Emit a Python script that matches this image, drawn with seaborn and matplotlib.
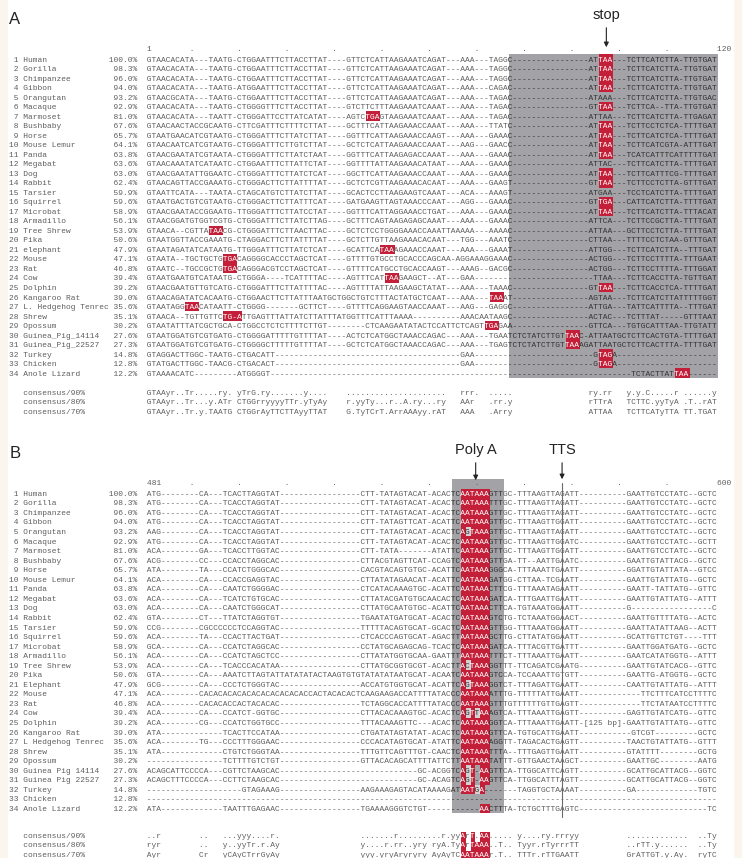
import matplotlib
matplotlib.use("Agg")
import matplotlib.pyplot as plt
from matplotlib.colors import ListedColormap
from matplotlib.patches import Rectangle
import numpy as np
import seaborn as sns

# ---------------- data ----------------
species_a = ["Human", "Gorilla", "Chimpanzee", "Gibbon", "Orangutan", "Macaque", "Marmoset",
             "Bushbaby", "Horse", "Mouse Lemur", "Panda", "Megabat", "Dog", "Rabbit",
             "Tarsier", "Squirrel", "Microbat", "Armadillo", "Tree Shrew", "Pika",
             "elephant", "Mouse", "Rat", "Cow", "Dolphin", "Kangaroo Rat",
             "L. Hedgehog Tenrec", "Shrew", "Opossum", "Guinea_Pig_14114",
             "Guinea_Pig_22527", "Turkey", "Chicken", "Anole Lizard"]
species_b = list(species_a)
species_b[20] = "Elephant"
species_b[26] = "L Hedgehog Tenrec"
species_b[29] = "Guinea Pig 14114"
species_b[30] = "Guinea Pig 22527"
identity = [100.0, 98.3, 96.0, 94.0, 93.2, 92.9, 81.0, 67.6, 65.7, 64.1, 63.8, 63.6,
            63.0, 62.4, 59.9, 59.6, 58.9, 56.1, 53.9, 50.6, 47.9, 47.1, 46.8, 39.4,
            39.2, 39.0, 35.6, 35.1, 30.2, 27.6, 27.3, 14.8, 12.8, 12.2]
cons_labels = ["consensus/90%", "consensus/80%", "consensus/70%"]

# panel A, alignment columns 1-32
a_left = [
    "GTAACACATA---TAATG-CTGGAATTTCTTA",
    "GTAACACATA---TAATG-CTGGAATTTCTTA",
    "GTAACACATA---TAATG-CTGGAATTTCTTA",
    "GTAACACATA---TAATG-ATGGAATTTCTTA",
    "GTAACGCATA---TAATG-CTGGAATTTCTTA",
    "GTAACACATA---TAATG-CTGGGGTTTCTTA",
    "GTAACACATA---TAATT-CTGGGATTCCTTA",
    "GTAACAACTACCGCAATG-CTTCGATTTCTTT",
    "GTAATGAACATCGTAATG-CTGGGATTTCTTA",
    "GTAACAATCATCGTAATG-CTGGGATTTCTTG",
    "GTAACGAATATCGTAATA-CTGGGATTTCTTA",
    "GTAACAAATATCATAATC-CTGGAATTTCTTA",
    "GTAACGAATATTGGAATC-CTGGGATTTCTTA",
    "GTAACAGTTACCGAAATG-CTGGGACTTCTTA",
    "GTAATTCATA---TAATA-CTAGCATGTCTTA",
    "GTAATGACTGTCGTAATG-CTGGGACTTCTTA",
    "GTAACGAATACCGGAATG-TTGGGATTTCTTA",
    "GTAACGGATGTGGTCGTG-CTGGGATTTCTTA",
    "GTAACA--CGTTATAACG-CTGGGATTTCTTA",
    "GTAATGGTTACCGAAATG-CTAGGACTTCTTA",
    "GTAATAGATATCATAATG-TTGGGATTTCTTA",
    "GTAATA--TGCTGCTGTGACAGGGGCACCCTA",
    "GTAATC--TGCCGCTGTGACAGGGACGTCCTA",
    "GTAATGAATGTCATAATG-CTGGGA----TCA",
    "GTAACGAATGTTGTCATG-CTGGGATTTCTTA",
    "GTAACAGATATCACAATG-CTGGAACTTCTTA",
    "GTAATAGGTAACATAATT-CTGGGG-------",
    "GTAACA--TGTTGTTCTG-ATTGAGTTTATTA",
    "GTAATATTTATCGCTGCA-CTGGCCTCTCTTT",
    "GTAATGGATGTCGTGATG-CTGGGGATTTTTG",
    "GTAATGGATGTCGTGATG-CTGGGGCTTTTTG",
    "GTAGGACTTGGC-TAATG-CTGACATT-----",
    "GTATGACTTGGC-TAACG-CTGACACT-----",
    "GTAAAACATC---------ATGGGGT------",
]
# panel A, columns 31-77
a_mid = [
    "TACCTTAT----GTTCTCATTAAGAAATCAGAT---AAA---TAGGC",
    "TACCTTAT----GTTCTCATTAAGAAATCAGAT---AAA---TAGGC",
    "TACCTTAT----GTTCTCATTAAGAAATCAGAT---AAA---TAGGC",
    "TACCTTAT----GTTCTCATTAAGAAATCAGAT---AAA---CAGAC",
    "TACCTTAT----GTTCTCATTAAGAAATCAGAT---AAA---TAGAC",
    "TACCTTAT----GTCTTCTTTAAGAAATCAAAT---AAA---TAGAC",
    "TATCATAT----AGTCTGAGTAAGAAATCAAAT---AAA---TAGAC",
    "TTTCTTAT----GCTTTCATTAAGAAACCAAAT---AAA---TTATC",
    "TATCTTAT----GGTTTCATTAAGAAACCAAGT---AAA---GAAAC",
    "TGTCTTAT----GCTCTCATTAAGAAACCAAAT---AAG---GAACC",
    "TATCTAAT----GGTTTCATTAAGAGACCAAAT---AAA---GAAAC",
    "TATTCTAT----GGTTTTATTAAGAAACATAAT---AAA---GAAAC",
    "TATCTCAT----GGCTTCATTAAGAAACCAAAT---AAA---GAAAC",
    "TATTTTAT----GCTCTCGTTAAGAAACACAAT---AAA---GAAGT",
    "TATCTTAT----GCACTCCTTAAGAAGTCAAAT---ACA---AAAGT",
    "TATTTCAT----GATGAAGTTAGTAAACCCAAT---AGG---GAAAC",
    "TATCCTAT----GGTTTCATTAGGAAACCTGAT---AAA---GAAAC",
    "TATCTTAG----GCTTTCAGTAAGAGAGCAAAT---AAA---GAAAC",
    "TAACTTAC----GCTCTCCTGGGGAAACCAAATTAAAAA---AAAAC",
    "TATTTTAT----GCTCTTGTTAAGAAACACAAT---TGG---AAATC",
    "TATCTCAT----GCATTCATAAAGAAACCAAAT---AAA---GAAAT",
    "TAGCTCAT----GTTTTGTGCCTGCACCCAGCAA-AGGAAAGGAAAC",
    "TAGCTCAT----GTTTTCATGCCTGCACCAAGT---AAAG--GACGC",
    "CATTTTAC----AGTTTCATTAAGAAGCT--AT---GAA--------",
    "TATTTTAC----AGTTTTATTAAGAAGCTATAT---AAA---TAAAC",
    "TATTTAATGCTGGCTGTCTTTACTATGCTCAAT---AAA---TAAAT",
    "--GCTTCT----GTTTTCAGGAAGTAACCAAAT---AAG---GAGGC",
    "TATCTTATTTATGGTTTCATTTAAAA----------AAACAATAAGC",
    "TTTCTTGT--------CTCAAGAATATACTCCATTCTCAGTTGAGAA",
    "TGTTTTAT----ACTCTCATGGCTAAACCAGAC---AAA---TGAAT",
    "TGTTTTAT----GCTCTCATGGCTAAACCAGAC---AAA---TGAGT",
    "------------------------------------GAA--------",
    "------------------------------------GAA--------",
    "-----------------------------------------------",
]
# panel A, columns 94-120 (rows 1-29)
a_right = [
    "ATTAA---TCTTCATCTTA-TTGTGAT", "ATTAA---TCTTCATCTTA-TTGTGAT",
    "ATTAA---TCTTCATCTTA-TTGTGAT", "ATTAA---TCTTCATCTTA-TTGTGAT",
    "ATAAA---TCTTCATCTTA-TTGTGAC", "GTTAA---TCTTCA--TTA-TTGTGAT",
    "ATTAA---TCTTCATCTTA-TTGAGAT", "ATTAA---TCTTCCTCTCA-TTTTGAT",
    "ATTAA---TCTTCATCTCA-TTTTGAT", "ATTAA---TCTTCATCGTA-ATTTGAT",
    "ATTAA---TCATCATTTCATTTTTGAT", "ATTAC---TCTTCATCTTA-TTTTGAT",
    "ATTAA---TCTTCATTTCG-TTTTGAT", "GTTAA---TCTTCCTCTTA-GTTTGAT",
    "ATGAA---TCCTCATCTTA-TTTTGAT", "GTTGA---CATTCATCTTA-TTTTGAT",
    "ATTAA---TCTTCATCTTA-TTTACAT", "ATTCA---TCTTCCGCTTA-TTTTGAT",
    "ATTAA---GCTTCCTCTTA-TTTTGAT", "CTTAA---TTTTCCTCTAA-GTTTGAT",
    "ATTGG---TCTTCATCTTA--TTTGAT", "ACTGG---TCTTCCTTTTA-TTTGAAT",
    "ACTGG---TCTTCCTTTTA-TTTGGAT", "-TTAA---TCTTCACCTTA-TGTTGAT",
    "GTTAA---TCTTCACCTCA-TTTTGAT", "AGTAA---TCTTCATCTTATTTTTGGT",
    "ATTGA---TATTCATTTTA--TTTGAT", "ACTAC---TCTTTAT-----GTTTAAT",
    "GTTCA---TGTGCATTTAA-TTGTATT",
]
# panel A, columns 78-120 (rows 30-34)
a_tail_end = [
    "CTCTATCTTGTTAAC-ATTAATGCTCTTCACTGTA-TTTTGAT",
    "CTCTATCTTGTTAAAGATTAATGCTCTTCACTTTA-TTTTGAT",
    "-----------------GTAGA---------------------",
    "-----------------GTAGA---------------------",
    "-------------------------TCTACTTATTAA------",
]
# stop codons in panel A: (row, first column, last column)
a_stops = [(1, 96, 98), (2, 96, 98), (3, 96, 98), (4, 96, 98), (6, 96, 98), (7, 47, 49),
           (8, 96, 98), (9, 96, 98), (10, 96, 98), (11, 96, 98), (13, 96, 98), (14, 96, 98),
           (16, 96, 98), (17, 96, 98), (19, 14, 16), (21, 50, 52), (22, 17, 19), (23, 17, 19),
           (24, 51, 53), (25, 96, 98), (26, 73, 75), (27, 9, 11), (28, 17, 20), (29, 72, 74),
           (30, 89, 91), (31, 89, 91), (32, 96, 98), (33, 96, 98), (34, 112, 114)]
a_shade = (77, 120)

a_cons = [
    [(1, "GTAAyr..Tr.....ry. yTrG.ry......"), (33, ".y...."), (43, "....................."),
     (67, "rrr."), (73, "....."), (94, "ry.rr"), (102, "y.y.C.....r"), (114, "......y")],
    [(1, "GTAAyr..Tr...y.ATr CTGGrryyyyTTr"), (33, ".yTyAy"), (43, "r.yyTy...r..A.ry...ry"),
     (67, "AAr"), (73, ".rr.y"), (94, "rTTrA"), (102, "TCTTC.yyTyA"), (114, ".T..rAT")],
    [(1, "GTAAyr..Tr.y.TAATG CTGGrAyTTCTTA"), (33, "yyTTAT"), (43, "G.TyTCrT.ArrAAAyy.rAT"),
     (67, "AAA"), (73, ".Arry"), (94, "ATTAA"), (102, "TCTTCATyTTA"), (114, "TT.TGAT")],
]

# panel B, columns 1-32
b_left = [
    "ATG--------CA---TCACTTAGGTAT----",
    "ATG--------CA---TCACCTAGGTAT----",
    "ATG--------CA---TCACCTAGGTAT----",
    "ATG--------CA---TCACCTAGGTAT----",
    "AAG--------CA---TCACCTAGGTAT----",
    "ATG--------CA---TCACCTAGGTAT----",
    "ACA--------GA---TCACCTTGGTAC----",
    "ACG--------CC---CCACCTAGGCAC----",
    "ATA--------TA---CCATCTGGGCAC----",
    "ACA--------CA---CCACCGAGGTAC----",
    "ACA--------CA---CAATCTGGGGAC----",
    "ACA--------CA---TCATCTGTGCAC----",
    "ACA--------CA---CAATCTGGGCAT----",
    "GTA--------CT---TTATCTAGGTGT----",
    "CCG--------CGCCCCCCTCCAGGTAC----",
    "ACA--------TA---CCACTTACTGAT----",
    "GCA--------CA---CCATCTAGGCAC----",
    "ACA--------CA---CCATCTAGCTCC----",
    "ACA--------CA---TCACCCACATAA----",
    "GTA--------CA---AAATCTTAGTATTATA",
    "GCG--------CA---CCCTCTGGGTAC----",
    "ACA--------CACACACACACACACACACAC",
    "ACA--------CACACACCACTACACAC----",
    "ACA--------CA---CCATCT-GGTGC----",
    "ACA--------CG---CCATCTGGTGCC----",
    "ATA-------------TCACTTCCATAA----",
    "ACA--------TG---CCCTTTGGGAAC----",
    "ATA-------------CTGTCTGGGTAA----",
    "----------------TCTTTTGTCTGT----",
    "ACAGCATTCCCCA---CGTTCTAAGCAC----",
    "ACAGCTTTCCCCA---CCTTCTAAGCAC----",
    "--------------------GTAGAAAG----",
    "--------------------------------",
    "ATA-------------TAATTTGAGAAC----",
]
# panel B, columns 33-66
b_mid = [
    "-------------CTT-TATAGTACAT-ACACTC",
    "-------------CTT-TATAGTACAT-ACACTC",
    "-------------CTT-TATAGTACAT-ACACTC",
    "-------------CTT-TATAGTTCAT-ACATTC",
    "-------------CTT-TATAGTACAT-ACACTC",
    "-------------CTT-TATAGTACAT-ACACTC",
    "-------------CTT-TATA-------ATATTC",
    "-------------CTTACGTAGTTCAT-CCAGTC",
    "-------------CACGTACAGTGTGC-ACATTC",
    "-------------CTTATATAGAACAT-ACATTC",
    "-------------CTCATACAAAGTGC-ACATTC",
    "-------------CTTATACGATGTGCAACACTC",
    "-------------CTTATGCAATGTGC-ACATTC",
    "-------------TGAATATGATGCAT-ACACTC",
    "-------------TTTTTACAGTGCAT-GCACTC",
    "-------------CTCACCCAGTGCAT-AGACTT",
    "-------------CCTATGCAGAGCAG-TCACTC",
    "-------------CTTATATGGTGCAA-GAATTT",
    "-------------CTTATGCGGTGCGT-ACACTT",
    "TATACTAAGTGTGTATATATAATGCAT-ACAATC",
    "-------------ACCATGTGGTGCAT-ACATTC",
    "ACCACTACACACTCAAGAAGACCATTTTATACCC",
    "-------------TCTAGGCACCATTTTATACCC",
    "-------------CTTACACAAAGTGC-ACACTC",
    "-------------TTTACAAAGTTC---ACACTC",
    "-------------CTGATATAGTATAT-ACACTC",
    "-------------CCCACATAGTGCAT-ATATTC",
    "-------------TTTGTTCAGTTTGT-CAACTC",
    "-------------GTTACACAGCATTTTATTCTT",
    "-------------------------GC-ACGGTC",
    "-------------------------GC-ACAGTC",
    "-------------AAGAAAGAGTACATAAAAGAT",
    "----------------------------------",
    "-------------TGAAAAGGGTCTGT-------",
]
# panel B, columns 67-72 (poly A signal)
b_motif = ["AATAAA"] * 4 + ["AGTAAA"] + ["AATAAA"] * 13 + ["ACTAAA", "AATAAA", "AGTAAA",
           "AATAAA", "AATAAA", "AGTTAA", "AATAAA", "AATAAA", "AATAAA", "AATAAA", "AATAAA",
           "AGT-AA", "AGT-AA", "AATGA-", "------", "----AA"]
# panel B, columns 73-82
b_after = ["GTTGC-TTTA", "TTTGC-TTTA", "GTTGC-TTTA", "GTTGC-TTTA", "GTTGC-TTTA",
           "GTTGC-TTTA", "GTTGC-TTTA", "GTTGA-TT--", "GGGCA-TTTA", "GATGG-CTTA",
           "CTTCG-TTTA", "GATCA-TTTG", "CTTCA-TGTA", "GTCTG-TCTA", "GTTGG-TTTA",
           "GCTTG-CTTA", "GATCA-TTTA", "TTTCT-TTTA", "GGTTT-TTCA", "GTCCA-TCCA",
           "GGTCT-TTTA", "ATTTG-TTTT", "GTTTGTTTTT", "AGTCA-TTTA", "GGTCA-TTTA",
           "GTTCA-TGTG", "AGGTT-TAGA", "TTTA--TTTG", "TATTT-GTTG", "GTTCA-TTGG",
           "GTTCA-TTGG", "------TAGG", "----------", "CTTTA-TCTG"]
# panel B, columns 83-120
b_right = [
    "AGTTAGATT----------GAATTGTCCTATC--GCTC",
    "AGTTAGATT----------GAATTGTCCTATC--GCTC",
    "AGTTAGATT----------GAATTGTCCTATC--GCTC",
    "AGTTGGATT----------GAATTGTCCTATC--GCTC",
    "AGTTAGATT----------GAATTGTCCTATC--GCTC",
    "AGTTGGATC----------GAATTGTCCTATC--GCTT",
    "AGTTGGATT----------GAATTGTCCTATC--GCTC",
    "AATTGAATC----------GAATTGTATTACG--GCTC",
    "AATTGAATT----------GGATTGTATTATA--GTCC",
    "A-TCGAATT----------GAATTGTATTATG--GCTC",
    "AATAGAATT----------GAATT-TATTATG--GTTC",
    "AATTGAATT----------GAATTGTATTATG--ATTT",
    "AATGGAATT----------G-----------------C",
    "AATGGAACT----------GAATTGTTTTATG--ACTC",
    "AATGGAATT----------GAATTATATTAAG--ACTT",
    "TATGGAATT----------GCATTGTTCTGT----TTT",
    "CGTTGATTT----------GAATTGGATGATG--GCTC",
    "AATTGAATT----------GAATCATATGGTG--ATTT",
    "GATCGAATG----------GAATTGTATCACG--GTTC",
    "AATTGTGTT----------GAATTG-ATGGTG--GCTC",
    "GATTGAATT----------CAATTGTATTATG--ATTT",
    "TATTGAATT-------------TTCTTTCATCCTTTTC",
    "TGTTGAGTT-------------TTCTATAATCCTTTTC",
    "AATTGAGTT----------GAGTTGTATCATG--GTTC",
    "AATTGAATT-[125 bp]-GAATTGTATTATG--GTTC",
    "CATTGAATT-----------GTCGT---------GCTC",
    "CACTGAGTT----------TAACTGTATTATG--GTTT",
    "AGTTGAATT----------GTATTTT--------GCTG",
    "AACTAAGCT----------GAATTGC--------AATG",
    "CATTCAGTT----------GCATTGCATTACG--GGTC",
    "CATTTAGTT----------GCATTGCATTACG--GGTC",
    "TGCTAAAAT----------GA-------------TGTC",
    "--------------------------------------",
    "CTTTGAGTC---------------------------TC",
]
b_signal = "AATAAA"
b_signal_cols = (67, 72)
b_shade = (65, 75)
b_cons = [
    [(1, "..r"), (12, ".."), (17, "...yyy....r."), (46, ".......r.........r.yy"),
     (67, "ArT.AA"), (73, "....."), (79, "y....ry.rrryy"), (102, "............."),
     (117, "..Ty")],
    [(1, "ryr"), (12, ".."), (17, "y..yyTr.r.Ay"), (46, "y....r.rr..yry ryA.Ty"),
     (67, "ArTAAA"), (73, "..T.."), (79, "Tyyr.rTyrrrTT"), (102, "..rTT.y......"),
     (117, "..Ty")],
    [(1, "Ayr"), (12, "Cr"), (17, "yCAyCTrrGyAy"), (46, "yyy.yryAryryry AyAyTC"),
     (67, "AATAAA"), (73, "r.T.."), (79, "TTTr.rTTGAATT"), (102, "GrATTGT.y.Ay."),
     (117, "ryTC")],
]
a_ruler = [(1, "1"), (121, "120")]
b_ruler = [(1, "481"), (121, "600")]
ruler_dots = list(range(10, 111, 10))

# ---------------- helpers ----------------
NCOL = 120


def fit(s, n):
    return (s + "-" * n)[:n]


def place(parts, width=NCOL):
    row = [" "] * width
    for start, text in parts:
        for k, ch in enumerate(text):
            if start - 1 + k < width:
                row[start - 1 + k] = ch
    return "".join(row)


seq_a = []
for i in range(34):
    tail = "-" * 16 + a_right[i] if i < 29 else a_tail_end[i - 29]
    seq_a.append(fit(fit(a_left[i], 32) + fit(a_mid[i], 47)[2:] + fit(tail, 43), NCOL))

seq_b = []
for i in range(34):
    seq_b.append(fit(fit(b_left[i], 32) + fit(b_mid[i], 34) + fit(b_motif[i], 6)
                     + fit(b_after[i], 10) + fit(b_right[i], 38), NCOL))

cons_a = [place(p) for p in a_cons]
cons_b = [place(p) for p in b_cons]

# cell classes: 0 none, 1 grey shade, 2 red, 3 light box (mismatch)
mat_a = np.zeros((39, NCOL), dtype=int)
mat_a[1:35, a_shade[0] - 1:a_shade[1]] = 1
for r, c1, c2 in a_stops:
    mat_a[r, c1 - 1:c2] = 2

mat_b = np.zeros((40, NCOL), dtype=int)
mat_b[0:35, b_shade[0] - 1:b_shade[1]] = 1
for i, s in enumerate(seq_b):
    for k, c in enumerate(range(b_signal_cols[0], b_signal_cols[1] + 1)):
        ch = s[c - 1]
        if ch == b_signal[k]:
            mat_b[i + 1, c - 1] = 2
        elif ch != "-":
            mat_b[i + 1, c - 1] = 3
for j, s in enumerate(cons_b):
    for k, c in enumerate(range(b_signal_cols[0], b_signal_cols[1] + 1)):
        if s[c - 1] == b_signal[k]:
            mat_b[37 + j, c - 1] = 2

# ---------------- drawing ----------------
sns.set_style("white")
plt.rcParams["font.family"] = ["Liberation Sans", "DejaVu Sans"]

GREY = "#a3a3a7"
RED = "#c41f38"
LIGHT = "#d2d2d2"
TXT = "#5e5e5e"
DARK = "#333333"
MONO = dict(family="Liberation Mono", size=5.71)
PX = 4.76
X0 = 147.0

fig = plt.figure(figsize=(7.42, 8.58), dpi=100)
fig.patches.append(Rectangle((0, 0), 8 / 742, 1, transform=fig.transFigure,
                             facecolor="#faf6ee", edgecolor="none", zorder=-5))
fig.patches.append(Rectangle((734 / 742, 0), 8 / 742, 1, transform=fig.transFigure,
                             facecolor="#faf6ee", edgecolor="none", zorder=-5))

cmap = ListedColormap(["white", GREY, RED, LIGHT])


def draw_panel(ax, seqs, names, cons, mat, cons_first, cons_dy, ruler, ptop, pbot, row1_px, pitch):
    sns.heatmap(mat, ax=ax, mask=(mat == 0), cmap=cmap, vmin=-0.5, vmax=3.5,
                cbar=False, xticklabels=False, yticklabels=False)
    ax.set_xlim(-X0 / PX, (742 - X0) / PX)
    ax.set_ylim(1.5 + (pbot - row1_px) / pitch, 1.5 + (ptop - row1_px) / pitch)
    ax.set_axis_off()

    def write_row(y, prefix, seq, cls):
        base = prefix + "".join(ch if c == 0 else " " for ch, c in zip(seq, cls))
        dark = " " * len(prefix) + "".join(ch if c in (1, 3) else " " for ch, c in zip(seq, cls))
        red = " " * len(prefix) + "".join(ch if c == 2 else " " for ch, c in zip(seq, cls))
        x = -len(prefix)
        for s, col in ((base, TXT), (dark, DARK), (red, "white")):
            if s.strip():
                ax.text(x, y, s, color=col, ha="left", va="center_baseline", **MONO)

    for i, seq in enumerate(seqs):
        prefix = f"{i + 1:>2} {names[i]:<18}{identity[i]:>5.1f}%  "
        write_row(i + 1.5, prefix, seq, mat[i + 1])
    for j, seq in enumerate(cons):
        prefix = f"   {cons_labels[j]:<18}" + " " * 8
        write_row(cons_first + j + 0.5 + cons_dy, prefix, seq, mat[cons_first + j])
    ruler_line = place(ruler + [(c, ".") for c in ruler_dots], width=NCOL + 3)
    ax.text(0, 0.35, ruler_line, color=TXT, ha="left", va="center_baseline", **MONO)


# panel A: pixels 0..430, row 1 centred at y=59 px
axA = fig.add_axes([0, 1 - 430 / 858, 1, 430 / 858])
draw_panel(axA, seq_a, species_a, cons_a, mat_a, 36, 0.0, a_ruler, 0, 430, 59.0, 9.52)
ya = lambda p: 1.5 + (p - 59.0) / 9.52
axA.text((15 - X0) / PX, ya(19), "A", fontsize=12, ha="center", va="center", color="#222222")
axA.text(96.6, ya(15), "stop", fontsize=10.5, ha="center", va="center", color="#222222")
axA.annotate("", xy=(96.5, ya(50)), xytext=(96.5, ya(25)),
             arrowprops=dict(arrowstyle="-|>", color="#222222", lw=0.8, mutation_scale=7))

# panel B: pixels 430..858, row 1 centred at y=493.3 px
axB = fig.add_axes([0, 0, 1, 428 / 858])
draw_panel(axB, seq_b, species_b, cons_b, mat_b, 37, -0.2, b_ruler, 430, 858, 493.3, 9.55)
yb = lambda p: 1.5 + (p - 493.3) / 9.55
axB.text((15 - X0) / PX, yb(454), "B", fontsize=12, ha="center", va="center", color="#222222")
axB.text(69.05, yb(450), "Poly A", fontsize=10.5, ha="center", va="center", color="#222222")
axB.text(87.2, yb(450), "TTS", fontsize=10.5, ha="center", va="center", color="#222222")
axB.annotate("", xy=(69.05, yb(483)), xytext=(69.05, yb(460)),
             arrowprops=dict(arrowstyle="-|>", color="#222222", lw=0.8, mutation_scale=7))
axB.annotate("", xy=(87.2, yb(482)), xytext=(87.2, yb(460)),
             arrowprops=dict(arrowstyle="-|>", color="#222222", lw=0.8, mutation_scale=7))
axB.plot([87.2, 87.2], [yb(483), yb(817)], color="#6a6a6a", lw=0.8, zorder=5)

fig.savefig("out.png", dpi=100)
